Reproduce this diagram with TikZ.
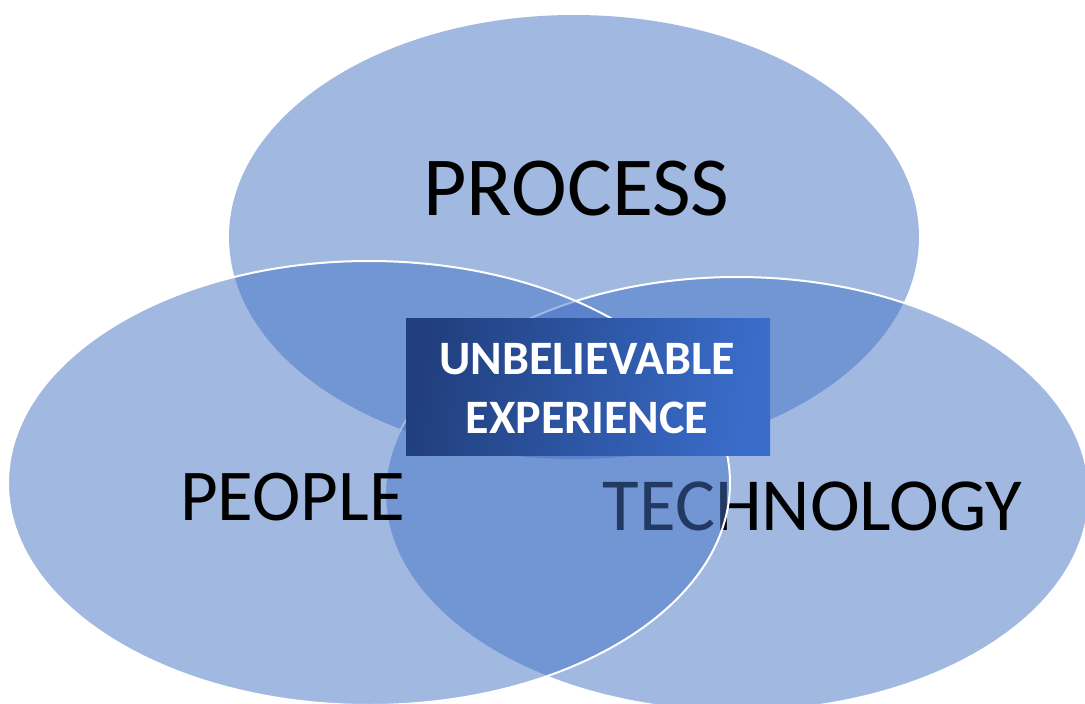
\documentclass[tikz,border=0pt]{standalone}
\usepackage{fontspec}
\setmainfont{Carlito}
\usetikzlibrary{shapes.geometric}
\definecolor{vennblue}{HTML}{4472C4}
\definecolor{coredark}{HTML}{213F7E}
\definecolor{corelight}{HTML}{3A6DCB}
\tikzset{
  venn/.style={ellipse, inner sep=0pt, fill=vennblue, fill opacity=0.5},
  rim/.style={draw=white, line width=2pt},
  biglabel/.style={inner sep=0pt, anchor=base, text=black},
  corelabel/.style={inner sep=0pt, anchor=base, text=white,
    font=\bfseries\fontsize{48}{58}\selectfont}
}
\begin{document}
\begin{tikzpicture}[x=1pt,y=-1pt]
  \useasboundingbox (0,0) rectangle (1085,704);
  \clip (0,0) rectangle (1085,704);

  % process circle
  \node[venn, minimum width=690pt, minimum height=444pt] (process) at (574,237) {};
  \node[biglabel, font=\fontsize{84}{100}\selectfont] (processtxt) at (576.5,215) {PROCESS};

  % technology circle
  \node[venn, rim, minimum width=704pt, minimum height=434pt] (technology) at (737,494) {};
  \node[biglabel, font=\fontsize{75}{90}\selectfont] (technologytxt) at (812.5,530) {TECHNOLOGY};

  % people circle
  \node[venn, rim, minimum width=722pt, minimum height=444pt] (people) at (369,483) {};
  \node[biglabel, font=\fontsize{73}{88}\selectfont] (peopletxt) at (292.5,520) {PEOPLE};

  % centre banner
  \node[rectangle, inner sep=0pt, minimum width=364pt, minimum height=137pt,
        left color=coredark, right color=corelight, shading angle=80] (core) at (588,386.5) {};
  \node[corelabel] (coreA) at (587,374) {UNBELIEVABLE};
  \node[corelabel] (coreB) at (587,433) {EXPERIENCE};
\end{tikzpicture}
\end{document}
